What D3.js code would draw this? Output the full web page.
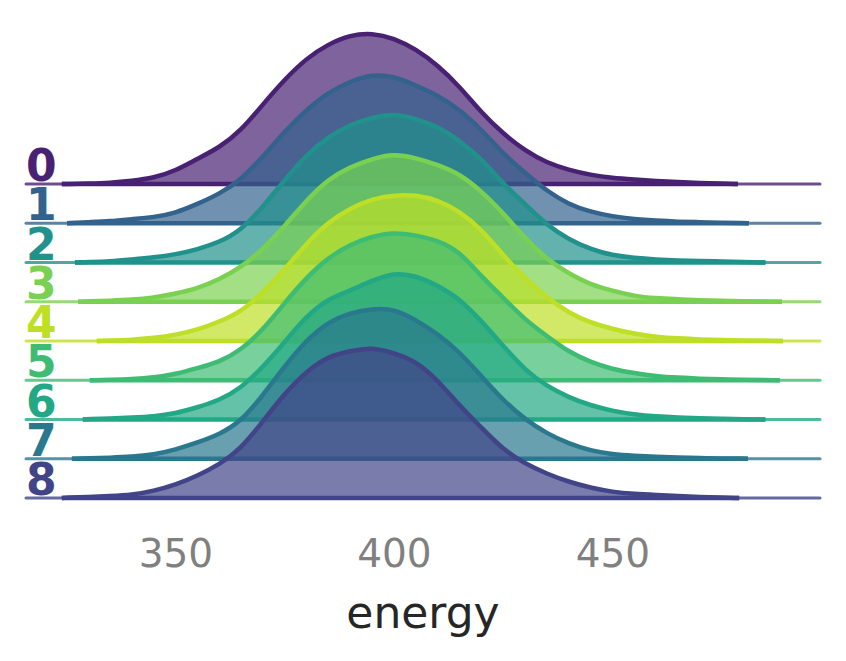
<!DOCTYPE html>
<html>
<head>
<meta charset="utf-8">
<script src="https://cdn.jsdelivr.net/npm/d3@7/dist/d3.min.js"></script>
<style>
  html, body { margin: 0; padding: 0; background: #ffffff; }
  svg { display: block; }
</style>
</head>
<body>
<svg id="chart" width="846" height="661"></svg>
<script>
// ---- data ----
const rowLabels = ["0", "1", "2", "3", "4", "5", "6", "7", "8"];
const rowColors = ["#482173", "#33638d", "#21918c", "#7ad151", "#bddf26", "#3fbc73", "#22a884", "#2a788e", "#414487"];
// energy where each density curve starts / ends (density = 0)
const rowStart = [324, 325.2, 327, 327.7, 332, 330.4, 328.8, 326.3, 324];
const rowEnd   = [478.7, 481.2, 485, 488.8, 489, 488.3, 485, 481, 479];
// shared energy sample points
const energyGrid = [325,330,335,340,345,350,355,360,365,370,375,380,385,390,395,400,405,410,415,420,425,430,435,440,445,450,455,460,465,470,475,480,485];
// relative density (peak of tallest = 100); null = outside that curve's range
const density0 = [0,0.3,0.7,2,4,8.7,16.7,24,35.3,52.7,69.3,83.3,92.7,98.7,100,96.7,89.3,78.7,64.7,47.3,33.3,22,14,9.3,6,4,3,2,1.3,0.7,0.3,null,null];
const density1 = [null,0.7,1.3,2.7,4,6.7,12.7,19.3,28.7,44,60.7,75.3,86.7,94,98.7,97.3,91.3,84.7,75.3,62,46,33.3,21.3,12.5,7.5,4.5,2.7,1.7,1,0.7,0.3,0.1,null];
const density2 = [null,0.3,0.7,2,3.3,5.3,8.7,13.3,21.3,36.7,54.7,71.3,83.3,91.3,96,98.7,95.3,90,80.7,68.7,52,38.7,24.7,15.3,8.7,4.7,3,2,1.3,1,0.7,0.3,null];
const density3 = [null,0.3,0.7,1.3,2.7,5.3,8.7,14.7,22.7,34.7,50,67.3,81.3,89.3,94.7,98,95.3,90.7,84.7,73.3,58.7,42,28,18.7,11.3,7.3,3.7,2.3,1.7,1,0.7,0.3,0.1];
const density4 = [null,null,0.3,0.7,2,4,7.3,12.7,19.3,32,47.3,64.7,78.7,88,94,96.7,96.7,93.3,86,74,56.7,41.3,28.7,18.7,12,8,4.7,2.7,1.7,1,0.7,0.3,0.1];
const density5 = [null,null,0.3,0.7,1.7,4,8,12,20,33.3,51.3,68,81.3,90,95.3,98,96,92.7,85.3,68.7,54.7,40,29.3,18.7,12,7.3,4.7,2.7,1.7,1,0.7,0.3,0.1];
const density6 = [null,0.2,0.7,1.3,2,4,8,12.7,20.7,34.7,51.3,68.7,80,85.3,92,97.3,95.3,88.7,80,65.3,48.7,32.7,22,14.7,9.3,5.7,3.3,2,1.3,0.8,0.5,0.2,null];
const density7 = [null,0.3,0.7,1.3,2.7,6,10.7,16,24.7,42,61.3,78.7,90.7,96.7,99.3,99.3,92,82.7,70.7,54.7,38.7,26,16.7,10,5.3,3,2,1.3,0.7,0.4,0.2,0.1,null];
const density8 = [0.3,0.7,1.3,2,4.7,8.7,14.7,22,32.7,50.7,69.3,84,94,97.3,100,96,90.7,78,61.3,46.7,32,22.7,16,10.7,6.7,4,2.7,2,1.3,0.7,0.3,null,null];
const densities = [density0, density1, density2, density3, density4, density5, density6, density7, density8];
const xTicks = [350, 400, 450];
const xLabel = "energy";

// ---- layout ----
const svg = d3.select("#chart");
const left = 26, right = 820;
const x = d3.scaleLinear().domain([315.8, 497.5]).range([left, right]);
const rowY = d3.scalePoint().domain(rowLabels).range([184, 498]);
const h = d3.scaleLinear().domain([0, 100]).range([0, 151]);

const rows = rowLabels.map((lab, i) => {
  const pts = [[rowStart[i], 0]];
  energyGrid.forEach((e, j) => {
    const v = densities[i][j];
    if (v !== null && e > rowStart[i] && e < rowEnd[i]) pts.push([e, v]);
  });
  pts.push([rowEnd[i], 0]);
  return { label: lab, color: rowColors[i], pts, start: rowStart[i], end: rowEnd[i] };
});

rows.forEach(r => {
  const base = rowY(r.label);
  const g = svg.append("g");
  const area = d3.area()
    .x(d => x(d[0]))
    .y0(base)
    .y1(d => base - h(d[1]))
    .curve(d3.curveBasis);
  const line = d3.line()
    .x(d => x(d[0]))
    .y(d => base - h(d[1]))
    .curve(d3.curveBasis);

  g.append("path").attr("d", area(r.pts))
    .attr("fill", r.color).attr("fill-opacity", 0.7);
  // full-width baseline
  g.append("line")
    .attr("x1", left).attr("x2", right)
    .attr("y1", base).attr("y2", base)
    .attr("stroke", r.color).attr("stroke-opacity", 0.8)
    .attr("stroke-width", 3).attr("stroke-linecap", "round");
  // bottom edge under the curve
  g.append("line")
    .attr("x1", x(r.start)).attr("x2", x(r.end))
    .attr("y1", base).attr("y2", base)
    .attr("stroke", r.color).attr("stroke-width", 4.5);
  g.append("path").attr("d", line(r.pts))
    .attr("fill", "none").attr("stroke", r.color)
    .attr("stroke-width", 4.5).attr("stroke-linejoin", "round");
});

// row labels
svg.append("g").selectAll("text")
  .data(rows)
  .join("text")
  .attr("x", left)
  .attr("y", d => rowY(d.label) - 3)
  .attr("fill", d => d.color)
  .attr("font-family", "DejaVu Sans")
  .attr("font-weight", "bold")
  .attr("font-size", 44)
  .text(d => d.label);

// x axis
const axis = d3.axisBottom(x).tickValues(xTicks).tickSize(0).tickFormat(d3.format("d"));
const ax = svg.append("g").attr("transform", "translate(0,567)").call(axis);
ax.select(".domain").remove();
ax.selectAll("text")
  .attr("y", 0).attr("dy", 0)
  .attr("fill", "#808080")
  .attr("font-family", "DejaVu Sans")
  .attr("font-size", 39);

svg.append("text")
  .attr("x", (left + right) / 2)
  .attr("y", 628)
  .attr("text-anchor", "middle")
  .attr("fill", "#262626")
  .attr("font-family", "DejaVu Sans")
  .attr("font-size", 44)
  .text(xLabel);
</script>
</body>
</html>
